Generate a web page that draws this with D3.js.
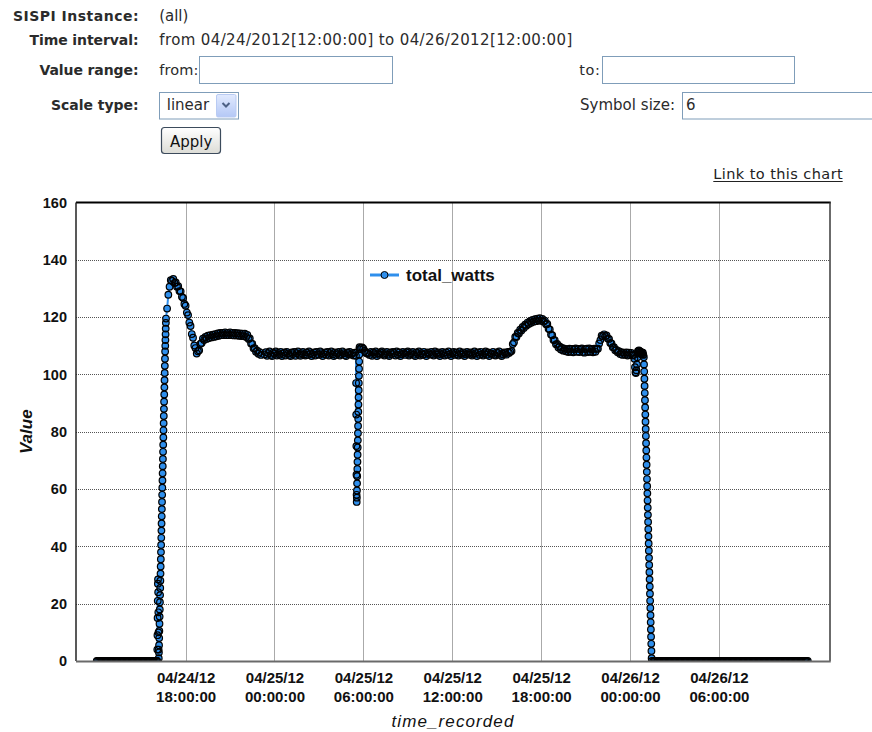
<!DOCTYPE html>
<html><head><meta charset="utf-8">
<script src="https://cdn.jsdelivr.net/npm/d3@7"></script>
<style>
html,body{margin:0;padding:0;background:#fff;}
svg{display:block;}
</style></head><body>
<svg id="c" width="872" height="732"></svg>
<script>
// ---------- DATA (total_watts readings; each run = start time, sampling step in minutes, values) ----------
const seriesName = "total_watts";
const yTickValues = [0, 20, 40, 60, 80, 100, 120, 140, 160];
const xTickTimes = ["2012-04-24 18:00", "2012-04-25 00:00", "2012-04-25 06:00", "2012-04-25 12:00", "2012-04-25 18:00", "2012-04-26 00:00", "2012-04-26 06:00"];
const domainTimes = ["2012-04-24 10:36", "2012-04-26 13:30"];

const idleMorningStart = "2012-04-24 12:00", idleMorningStep = 5;
const idleMorning = [
  0,0,0,0,0,0,0,0,0,0, 0,0,0,0,0,0,0,0,0,0, 0,0,0,0,0,0,0,0,0,0,
  0,0,0,0,0,0,0,0,0,0, 0,0,0,0,0,0,0,0,0];

const rampUpStart = "2012-04-24 16:04", rampUpStep = 0.6;
const rampUp = [0, 0, 4, 9, 15, 21, 27, 28.5, 24, 17, 10, 4, 1, 3, 5.5, 8, 10.5, 13, 15.5, 18,
  20.5, 23, 25.5, 28, 30.5, 33, 35.5, 38, 40.5, 43, 45.5, 48, 50.5, 53, 55.5, 58, 60.5, 63, 65.5, 68,
  70.5, 73, 75.5, 78, 80.5, 83, 85.5, 88, 90.5, 93, 95.5, 98, 100.5, 103, 105.5, 108, 110, 112, 114, 116,
  118, 119.5];

const warmupStart = "2012-04-24 16:45", warmupStep = 5;
const warmup = [123, 127.8, 130.6, 132.9, 132.6, 133.3, 131.9, 132.1, 130.6, 130.8,
  129.1, 129.0, 127.1, 126.7, 124.6, 124.0, 121.6, 120.7, 118.1, 116.9,
  114.1, 112.8, 110.1, 109.2, 107.3, 108.1, 108.4, 110.7, 111.0, 112.5,
  112.0, 113.1, 112.4, 113.5, 112.7, 113.7, 112.9, 113.9, 113.1, 114.1,
  113.3, 114.3, 113.5, 114.5, 113.7, 114.5, 113.7, 114.7, 113.7, 114.5,
  113.7, 114.7, 113.7, 114.5, 113.6, 114.5, 113.6, 114.4, 113.5, 114.3,
  113.4, 114.2, 113.4, 114.2, 113.1, 113.8, 112.4, 112.6, 110.8, 110.7,
  109.1, 109.2, 107.9, 108.3, 107.2, 107.8, 106.8];

const nightFlatStart = "2012-04-24 23:20", nightFlatStep = 5;
const nightFlat = [107.0, 107.8, 106.5, 107.4, 108.0, 106.8, 106.4, 107.6, 107.2, 108.0,
  106.6, 107.5, 106.9, 107.9, 106.4, 107.2, 107.7, 106.6, 107.9, 107.3,
  106.8, 106.4, 107.7, 107.1, 107.9, 106.5, 107.4, 108.0, 106.9, 106.5,
  107.4, 107.9, 107.0, 106.6, 107.7, 106.8, 108.0, 107.3, 106.4, 107.1,
  107.7, 106.6, 107.9, 107.1, 106.8, 108.0, 107.4, 106.4, 107.1, 107.7,
  106.9, 107.9, 106.6, 107.4, 108.0, 107.0, 106.4, 107.7, 106.8, 107.4,
  107.9, 106.6, 107.1, 108.0, 107.4, 106.8, 106.4, 107.7, 107.1, 107.9,
  106.9, 107.4, 106.6, 107.6];

const morningDipStart = "2012-04-25 05:30", morningDipStep = 0.5;
const morningDip = [106.5, 97, 86, 75, 65, 58, 55.5, 57, 59.5, 62, 64.5, 67, 69.5, 72, 74.5,
  77, 79.5, 82, 84.5, 87, 89.5, 92, 94.5, 97, 99.5, 102, 104.5, 107, 108.8, 109.5];

const dayFlatStart = "2012-04-25 05:50", dayFlatStep = 5;
const dayFlat = [109.3, 109.4, 109.0, 108.2, 107.6, 107.3,
  107.4, 106.8, 107.9, 106.5, 107.7, 107.1, 108.0, 106.4, 107.4, 106.9,
  107.7, 108.0, 107.1, 106.6, 107.4, 107.9, 106.9, 106.4, 107.7, 107.1,
  107.9, 107.4, 106.6, 108.0, 106.9, 107.7, 106.4, 107.1, 107.9, 107.4,
  106.8, 107.7, 108.0, 106.6, 107.1, 107.4, 107.9, 106.9, 106.4, 107.7,
  107.1, 108.0, 106.6, 107.4, 106.9, 107.9, 107.1, 106.4, 107.7, 107.4,
  106.9, 107.9, 107.1, 106.6, 108.0, 107.4, 106.9, 107.7, 106.4, 107.1,
  107.9, 107.4, 106.6, 107.7, 106.9, 108.0, 107.1, 106.4, 107.4, 107.9,
  106.8, 107.7, 107.1, 106.6, 108.0, 107.4, 106.9, 107.7, 106.4, 107.1,
  107.9, 107.4, 106.9, 107.7, 106.6, 107.1, 108.0, 107.4, 106.4, 107.7,
  106.9, 107.9, 107.1, 106.6, 107.4, 108.0, 106.9, 107.7, 106.4, 107.4,
  107.1, 107.9, 106.9, 106.6, 107.7, 107.4, 108.0, 106.9, 106.4, 107.1,
  107.7, 107.4, 106.9, 107.9, 107.5];

const eveningStart = "2012-04-25 15:55", eveningStep = 5;
const evening = [107.9, 108.2, 110.6, 111.2, 113.1, 113.1, 114.5, 114.3, 115.6, 115.3,
  116.6, 116.2, 117.4, 117.0, 118.1, 117.6, 118.6, 118.0, 119.0, 118.4,
  119.3, 118.6, 119.5, 118.8, 119.6, 118.7, 119.4, 118.4, 118.8, 117.5,
  117.6, 115.9, 115.7, 113.9, 113.7, 112.0, 112.0, 110.5, 110.7, 109.4,
  109.8, 108.7, 109.3, 108.3, 109.0, 108.1,
  108.8, 107.8, 109.0, 107.9, 108.9, 107.7, 108.8, 109.1, 107.9, 108.9,
  107.8, 108.8, 109.1, 107.9, 107.6, 108.8, 109.0, 107.8, 109.1, 107.9,
  108.8, 107.7, 109.0, 107.9, 108.9,
  109.0, 110.8, 112.0, 113.5, 113.3, 114.0, 113.3, 113.6, 112.5, 112.4,
  111.0, 110.8, 109.5, 109.5, 108.4, 108.6, 107.7, 108.1, 107.1, 107.8,
  106.8, 107.6, 106.9, 107.7, 106.6, 107.6, 106.8, 107.5, 106.6, 106.8];

const shutdownDipStart = "2012-04-26 00:18", shutdownDipStep = 2;
const shutdownDip = [105.5, 102.5, 100.8, 100.5, 101.5, 103.5, 106, 108.1, 107.9, 108.4,
  107.5, 108.1, 107.2, 107.8, 107.1, 107.7, 107.0, 107.6, 106.8];

const shutdownDropStart = "2012-04-26 00:56", shutdownDropStep = 0.75;
const shutdownDrop = [106, 103.5, 101, 98.5, 96, 93.5, 91, 88.5, 86, 83.5,
  81, 78.5, 76, 73.5, 71, 68.5, 66, 63.5, 61, 58.5,
  56, 53.5, 51, 48.5, 46, 43.5, 41, 38.5, 36, 33.5,
  31, 28.5, 26, 23.5, 21, 18.5, 16, 13.5, 11, 8.5, 6, 3.5, 1, 0];

const idleAfterStart = "2012-04-26 01:35", idleAfterStep = 5;
const idleAfter = [
  0,0,0,0,0,0,0,0,0,0, 0,0,0,0,0,0,0,0,0,0, 0,0,0,0,0,0,0,0,0,0,
  0,0,0,0,0,0,0,0,0,0, 0,0,0,0,0,0,0,0,0,0, 0,0,0,0,0,0,0,0,0,0,
  0,0,0,0,0,0,0,0,0,0, 0,0,0,0,0,0,0,0,0,0, 0,0,0,0,0,0,0,0,0,0,
  0,0,0,0,0,0,0,0,0,0, 0,0,0,0,0,0,0,0,0,0, 0,0,0,0,0,0,0,0,0,0,
  0,0,0,0,0,0];

// ---------- BUILD ----------
const parse = d3.timeParse("%Y-%m-%d %H:%M");
function readings(start, stepMin, values) {
  const t0 = parse(start).getTime();
  return values.map((v, i) => ({ t: new Date(t0 + i * stepMin * 60000), v }));
}
const series = [].concat(
  readings(idleMorningStart, idleMorningStep, idleMorning),
  readings(rampUpStart, rampUpStep, rampUp),
  readings(warmupStart, warmupStep, warmup),
  readings(nightFlatStart, nightFlatStep, nightFlat),
  readings(morningDipStart, morningDipStep, morningDip),
  readings(dayFlatStart, dayFlatStep, dayFlat),
  readings(eveningStart, eveningStep, evening),
  readings(shutdownDipStart, shutdownDipStep, shutdownDip),
  readings(shutdownDropStart, shutdownDropStep, shutdownDrop),
  readings(idleAfterStart, idleAfterStep, idleAfter)
);

const svg = d3.select("#c");
const FORM = "'DejaVu Sans', Verdana, sans-serif";
const CHART = "'Liberation Sans', Arial, Helvetica, sans-serif";
const BLUE = "#2f8fec";
const SYMBOL_R = 3.3;

// ---------- FORM (header) ----------
const form = svg.append("g").attr("font-family", FORM).attr("fill", "#2b2b2b");
const labels = [["SISPI Instance:", 21, 125.5], ["Time interval:", 45, 109], ["Value range:", 75, 99], ["Scale type:", 110, 87.5]];
form.selectAll("text.lbl").data(labels).join("text").attr("class", "lbl")
  .attr("x", 138.5).attr("y", d => d[1]).attr("text-anchor", "end")
  .attr("font-weight", "bold").attr("font-size", 14).attr("textLength", d => d[2]).attr("lengthAdjust", "spacing")
  .text(d => d[0]);
function ftext(x, yy, s, w, size) {
  return form.append("text").attr("x", x).attr("y", yy).attr("font-size", size || 15)
    .attr("textLength", w).attr("lengthAdjust", "spacing").text(s);
}
ftext(159.3, 21, "(all)", 29);
ftext(159.3, 45, "from 04/24/2012[12:00:00] to 04/26/2012[12:00:00]", 413);
ftext(159.3, 75, "from:", 39, 14.5);
ftext(579.3, 75, "to:", 20.5, 14.5);
ftext(580, 110, "Symbol size:", 95);
const boxes = [[199.5, 56.5, 193, 27], [602.5, 56.5, 192, 27], [682.5, 92.5, 200, 26.5], [159.5, 92.5, 79, 26.5]];
form.selectAll("rect.box").data(boxes).join("rect").attr("class", "box")
  .attr("x", d => d[0]).attr("y", d => d[1]).attr("width", d => d[2]).attr("height", d => d[3])
  .attr("fill", "#fff").attr("stroke", "#7f9db9").attr("stroke-width", 1);
form.append("text").attr("x", 686).attr("y", 110).attr("font-size", 15).text("6");
ftext(166.7, 110, "linear", 42.5);
const defs = svg.append("defs");
const g1 = defs.append("linearGradient").attr("id", "dd").attr("x1", 0).attr("y1", 0).attr("x2", 0).attr("y2", 1);
g1.append("stop").attr("offset", 0).attr("stop-color", "#e1eafe");
g1.append("stop").attr("offset", 1).attr("stop-color", "#b4c8f6");
const g2 = defs.append("linearGradient").attr("id", "bt").attr("x1", 0).attr("y1", 0).attr("x2", 0).attr("y2", 1);
g2.append("stop").attr("offset", 0).attr("stop-color", "#ffffff");
g2.append("stop").attr("offset", 1).attr("stop-color", "#dcdcd6");
form.append("rect").attr("x", 216.5).attr("y", 94.5).attr("width", 19.5).attr("height", 22.5).attr("rx", 1.5)
  .attr("fill", "url(#dd)").attr("stroke", "#b9cbf3");
form.append("path").attr("d", "M222.5,103 L226,106.5 L229.5,103").attr("fill", "none")
  .attr("stroke", "#4d6185").attr("stroke-width", 2);
form.append("rect").attr("x", 161.5).attr("y", 127.5).attr("width", 59).attr("height", 26).attr("rx", 3)
  .attr("fill", "url(#bt)").attr("stroke", "#3c4b5c").attr("stroke-width", 1.2);
form.append("text").attr("x", 170).attr("y", 146.5).attr("font-size", 15)
  .attr("textLength", 42.3).attr("lengthAdjust", "spacing").attr("fill", "#111").text("Apply");
ftext(713.3, 179, "Link to this chart", 129.4, 14.5).attr("fill", "#222");
form.append("line").attr("x1", 713.3).attr("x2", 842.7).attr("y1", 181.5).attr("y2", 181.5)
  .attr("stroke", "#222").attr("stroke-width", 1);

// ---------- CHART ----------
const L = 76, R = 830, T = 202.5, B = 661;
const x = d3.scaleTime().domain(domainTimes.map(parse)).range([L, R]);
const y = d3.scaleLinear().domain([0, 160]).range([B, T]);

// grid
const grid = svg.append("g");
grid.selectAll("line.h").data(yTickValues.filter(v => v > 0 && v < 160)).join("line").attr("class", "h")
  .attr("x1", L).attr("x2", R).attr("y1", d => Math.round(y(d)) + 0.5).attr("y2", d => Math.round(y(d)) + 0.5)
  .attr("stroke", "#555").attr("stroke-dasharray", "1,1");
grid.selectAll("line.v").data(xTickTimes.map(parse)).join("line").attr("class", "v")
  .attr("x1", d => Math.round(x(d)) + 0.5).attr("x2", d => Math.round(x(d)) + 0.5).attr("y1", T).attr("y2", B)
  .attr("stroke", "#555").attr("stroke-dasharray", "1,1");

// y axis
const yAxis = svg.append("g").attr("transform", `translate(${L},0)`)
  .call(d3.axisLeft(y).tickValues(yTickValues).tickSize(0).tickPadding(9));
yAxis.select(".domain").remove();
yAxis.selectAll("text").attr("font-family", CHART).attr("font-weight", "bold").attr("font-size", 14.5).attr("fill", "#111");

// x axis
const f1 = d3.timeFormat("%m/%d/%y"), f2 = d3.timeFormat("%H:%M:%S");
const xAxis = svg.append("g").attr("transform", `translate(0,${B})`)
  .call(d3.axisBottom(x).tickValues(xTickTimes.map(parse)).tickSize(0));
xAxis.select(".domain").remove();
xAxis.selectAll(".tick text").attr("dy", null).attr("y", null).text(null)
  .attr("font-family", CHART).attr("font-weight", "bold").attr("font-size", 15).attr("fill", "#111")
  .each(function(d) {
    const t = d3.select(this);
    t.append("tspan").attr("x", 0).attr("y", 22).text(f1(d));
    t.append("tspan").attr("x", 0).attr("y", 40.5).text(f2(d));
  });

// data: connecting line, then symbol fills, then symbol outlines on top
defs.append("clipPath").attr("id", "plotclip").append("rect")
  .attr("x", L).attr("y", T).attr("width", R - L).attr("height", B - T);
const plot = svg.append("g").attr("clip-path", "url(#plotclip)");
plot.append("path").datum(series)
  .attr("d", d3.line().x(d => x(d.t)).y(d => y(d.v)))
  .attr("fill", "none").attr("stroke", BLUE).attr("stroke-width", 2);
plot.append("g").selectAll("circle").data(series).join("circle")
  .attr("cx", d => x(d.t)).attr("cy", d => y(d.v)).attr("r", SYMBOL_R)
  .attr("fill", BLUE).attr("stroke", "none");
plot.append("g").selectAll("circle").data(series).join("circle")
  .attr("cx", d => x(d.t)).attr("cy", d => y(d.v)).attr("r", SYMBOL_R)
  .attr("fill", "none").attr("stroke", "#000").attr("stroke-width", 1.2);

// frame
svg.append("line").attr("x1", L).attr("x2", R + 0.75).attr("y1", T).attr("y2", T).attr("stroke", "#000").attr("stroke-width", 2);
svg.append("line").attr("x1", L).attr("x2", L).attr("y1", T).attr("y2", B).attr("stroke", "#222").attr("stroke-width", 1.5);
svg.append("line").attr("x1", R).attr("x2", R).attr("y1", T).attr("y2", B).attr("stroke", "#3a3a3a").attr("stroke-width", 1.5);
svg.append("line").attr("x1", L).attr("x2", R + 0.75).attr("y1", B + 0.5).attr("y2", B + 0.5).attr("stroke", "#6a6a6a").attr("stroke-width", 2);

// axis titles
svg.append("text").attr("transform", `translate(32,${(T + B) / 2}) rotate(-90)`).attr("text-anchor", "middle")
  .attr("font-family", CHART).attr("font-weight", "bold").attr("font-style", "italic").attr("font-size", 17)
  .attr("fill", "#111").text("Value");
svg.append("text").attr("x", (L + R) / 2).attr("y", 727).attr("text-anchor", "middle")
  .attr("font-family", CHART).attr("font-style", "italic").attr("font-size", 17).attr("letter-spacing", 1.1)
  .attr("fill", "#111").text("time_recorded");

// legend
const leg = svg.append("g");
leg.append("line").attr("x1", 370).attr("x2", 399).attr("y1", 275).attr("y2", 275).attr("stroke", BLUE).attr("stroke-width", 3);
leg.append("circle").attr("cx", 384.5).attr("cy", 275).attr("r", 3.5).attr("fill", BLUE).attr("stroke", "#000");
leg.append("text").attr("x", 406).attr("y", 281).attr("font-family", CHART).attr("font-weight", "bold")
  .attr("font-size", 17).attr("fill", "#111").text(seriesName);
</script>
</body></html>
